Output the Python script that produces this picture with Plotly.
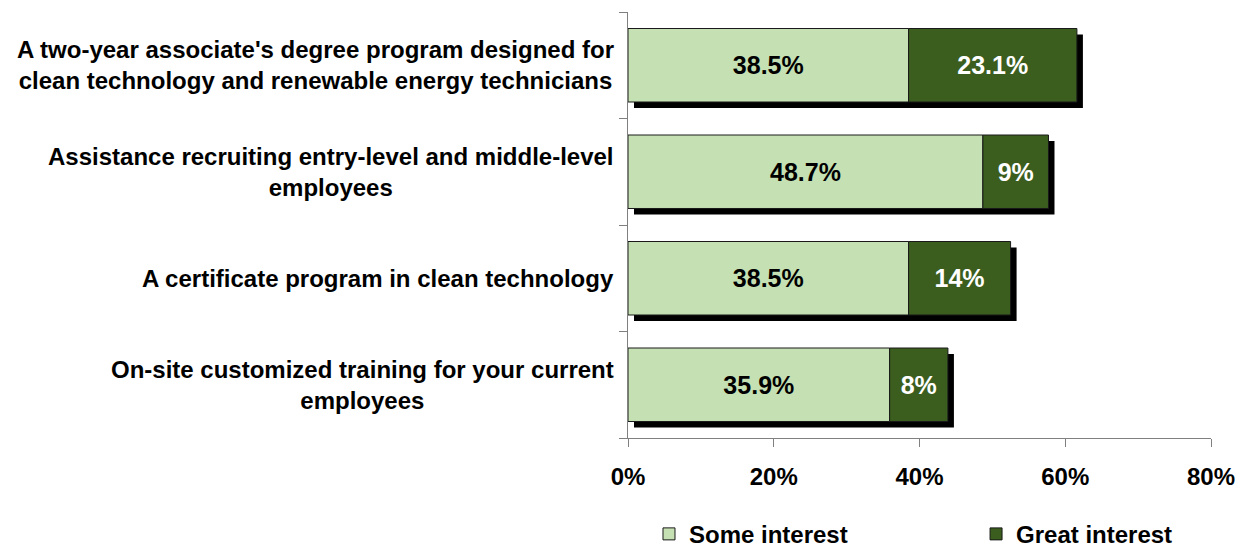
import plotly.graph_objects as go

categories = [
    "A two-year associate's degree program designed for<br>clean technology and renewable energy technicians",
    "Assistance recruiting entry-level and middle-level<br>employees",
    "A certificate program in clean technology",
    "On-site customized training for your current<br>employees",
]
some_interest = [38.5, 48.7, 38.5, 35.9]
great_interest = [23.1, 9, 14, 8]
x_ticks = [0, 20, 40, 60, 80]
x_tick_labels = ["0%", "20%", "40%", "60%", "80%"]

FONT = "Liberation Sans, Arial, sans-serif"
LIGHT = "#C5E0B3"
DARK = "#3B5E1F"
AXIS = "#808080"

# the page body adds an 8px margin, so the figure is sized/placed to compensate
W, H = 1246, 544
ML, MR, MT, MB = 620, 43, 4, 114
plot_w = W - ML - MR
plot_h = H - MT - MB
SHADOW_DX, SHADOW_DY = 6, 6
x_range = [0, 80]
y_range = [len(categories) - 0.5, -0.5]
dx = SHADOW_DX * (x_range[1] - x_range[0]) / plot_w
dy = SHADOW_DY * len(categories) / plot_h

ypos = list(range(len(categories)))
totals = [a + b for a, b in zip(some_interest, great_interest)]

fig = go.Figure()

# shadow (base axes, shifted range)
fig.add_trace(go.Bar(
    x=totals, y=ypos, orientation="h", width=0.69,
    marker=dict(color="black", line=dict(width=0)),
    showlegend=False, hoverinfo="skip", xaxis="x", yaxis="y",
))

fig.add_trace(go.Bar(
    name="Some interest", x=some_interest, y=ypos, orientation="h", width=0.69,
    marker=dict(color=LIGHT, line=dict(color="#1a1a1a", width=1)),
    text=[f"{v:g}%" for v in some_interest], textposition="inside",
    insidetextanchor="middle", textangle=0,
    textfont=dict(family=FONT, size=25, color="black", weight="bold"),
    xaxis="x2", yaxis="y2", legend="legend",
))
fig.add_trace(go.Bar(
    name="Great interest", x=great_interest, y=ypos, orientation="h", width=0.69,
    base=some_interest,
    marker=dict(color=DARK, line=dict(color="#1a1a1a", width=1)),
    text=[f"{v:g}%" for v in great_interest], textposition="inside",
    insidetextanchor="middle", textangle=0,
    textfont=dict(family=FONT, size=25, color="white", weight="bold"),
    xaxis="x2", yaxis="y2", legend="legend2",
))

annotations = []
for i, c in enumerate(categories):
    annotations.append(dict(
        text=c, x=0, xref="paper", xanchor="right", xshift=-12,
        y=i, yref="y2", yanchor="middle", align="center", showarrow=False,
        font=dict(family=FONT, size=24, color="black", weight="bold"),
    ))

legend_font = dict(family=FONT, size=24, color="black", weight="bold")

fig.update_layout(
    width=W, height=H,
    margin=dict(l=ML, r=MR, t=MT, b=MB, pad=0, autoexpand=False),
    paper_bgcolor="white", plot_bgcolor="white",
    barmode="overlay",
    font=dict(family=FONT, size=24, color="black", weight="bold"),
    xaxis=dict(range=[x_range[0] - dx, x_range[1] - dx], visible=False, fixedrange=True),
    yaxis=dict(range=[y_range[0] - dy, y_range[1] - dy], visible=False, fixedrange=True),
    xaxis2=dict(
        range=x_range, overlaying="x", anchor="y2", tickvals=x_ticks, ticktext=x_tick_labels,
        showline=True, linecolor=AXIS, linewidth=1, ticks="outside", ticklen=8,
        tickcolor=AXIS, showgrid=False, zeroline=False, ticklabelstandoff=9,
        tickfont=dict(family=FONT, size=24, color="black", weight="bold"),
    ),
    yaxis2=dict(
        range=y_range, overlaying="y", anchor="x2", tickvals=[-0.5, 0.5, 1.5, 2.5, 3.5],
        showticklabels=False, showline=True, linecolor=AXIS, linewidth=1,
        ticks="outside", ticklen=8, tickcolor=AXIS, showgrid=False, zeroline=False,
    ),
    legend=dict(
        orientation="h", x=0.036, xanchor="left", y=-0.226, yanchor="middle",
        font=legend_font, borderwidth=0,
    ),
    legend2=dict(
        orientation="h", x=0.597, xanchor="left", y=-0.226, yanchor="middle",
        font=legend_font, borderwidth=0,
    ),
    annotations=annotations,
    showlegend=True,
)

fig.write_html("out.html")
